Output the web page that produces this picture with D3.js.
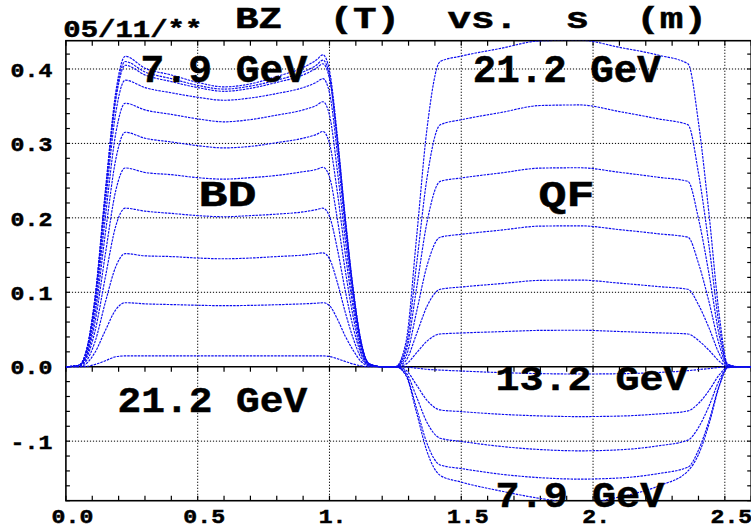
<!DOCTYPE html>
<html><head><meta charset="utf-8">
<script src="https://cdn.jsdelivr.net/npm/d3@7"></script>
<style>
html,body{margin:0;padding:0;background:#fff;overflow:hidden}
svg{display:block}
text{font-family:"Liberation Mono","Courier New",monospace;font-weight:bold;fill:#000;stroke:#000;stroke-width:0.5px}
</style></head><body>
<svg id="c" width="751" height="529"></svg>
<script>
const S = [0, 0.05, 0.08, 0.11, 0.15, 0.19, 0.225, 0.30, 0.40, 0.50, 0.60, 0.70, 0.80, 0.90, 0.95, 0.975,
  1.00, 1.03, 1.06, 1.09, 1.12, 1.15, 1.20,
  1.25, 1.29, 1.33, 1.37, 1.42, 1.50, 1.65, 1.80, 1.95, 2.10, 2.25, 2.36, 2.40, 2.44, 2.48, 2.51, 2.55, 2.60];

// Bz (T) for each beam energy, from 7.9 GeV (bzE1) to 21.2 GeV (bzE11)
const bzE1 = [0,0.002,0.025,0.092,0.238,0.371,0.417,0.401,0.392,0.382,0.376,0.380,0.390,0.402,0.412,0.419,0.398,0.310,0.201,0.105,0.034,0.004,0,
  0,-0.0117,-0.0613,-0.1139,-0.146,-0.155,-0.167,-0.177,-0.183,-0.175,-0.160,-0.140,-0.118,-0.077,-0.025,-0.0015,0,0];
const bzE2 = [0,0.002,0.025,0.090,0.234,0.365,0.410,0.396,0.387,0.378,0.373,0.377,0.385,0.396,0.405,0.412,0.391,0.305,0.198,0.103,0.033,0.004,0,
  0,-0.0106,-0.0554,-0.103,-0.132,-0.1368,-0.1444,-0.1491,-0.151,-0.1495,-0.1434,-0.1349,-0.112,-0.0726,-0.0238,-0.0013,0,0];
const bzE3 = [0,0.002,0.024,0.089,0.231,0.360,0.405,0.392,0.383,0.375,0.370,0.374,0.382,0.392,0.401,0.407,0.387,0.301,0.195,0.102,0.033,0.004,0,
  0,-0.0077,-0.0403,-0.0749,-0.096,-0.1003,-0.1071,-0.1113,-0.113,-0.1116,-0.1062,-0.0986,-0.0816,-0.0528,-0.0173,-0.001,0,0];
const bzE4 = [0,0.002,0.023,0.085,0.219,0.343,0.385,0.375,0.368,0.362,0.358,0.361,0.367,0.375,0.382,0.387,0.368,0.286,0.186,0.097,0.031,0.004,0,
  0,-0.0046,-0.0244,-0.0452,-0.058,-0.0603,-0.0639,-0.0661,-0.067,-0.0663,-0.0634,-0.0594,-0.0493,-0.0319,-0.0104,-0.0006,0,0];
const bzE5 = [0,0.002,0.021,0.078,0.202,0.315,0.354,0.345,0.339,0.333,0.329,0.332,0.338,0.345,0.351,0.356,0.338,0.263,0.171,0.089,0.028,0.004,0,
  0,-0.0004,-0.0019,-0.0035,-0.0045,-0.0058,-0.0079,-0.0093,-0.0098,-0.0094,-0.0077,-0.0053,-0.0038,-0.0025,-0.0008,0,0,0];
const bzE6 = [0,0.002,0.019,0.069,0.180,0.280,0.315,0.307,0.302,0.297,0.294,0.296,0.301,0.307,0.312,0.316,0.300,0.234,0.152,0.079,0.025,0.003,0,
  0,0.0035,0.0185,0.0343,0.044,0.0453,0.0471,0.0488,0.0490,0.0473,0.0455,0.044,0.0352,0.022,0.007,0.0004,0,0];
const bzE7 = [0,0.001,0.016,0.059,0.152,0.238,0.267,0.261,0.258,0.254,0.252,0.254,0.257,0.262,0.265,0.268,0.255,0.198,0.129,0.067,0.021,0.003,0,
  0,0.0083,0.0437,0.0811,0.104,0.1071,0.1116,0.1160,0.1164,0.1123,0.1076,0.104,0.0832,0.052,0.0166,0.001,0,0];
const bzE8 = [0,0.001,0.013,0.047,0.121,0.190,0.213,0.209,0.206,0.203,0.2015,0.203,0.205,0.208,0.211,0.213,0.202,0.158,0.102,0.053,0.017,0.002,0,
  0,0.0139,0.0731,0.1357,0.174,0.1779,0.1835,0.1889,0.1893,0.1842,0.1785,0.174,0.139,0.087,0.028,0.0017,0,0];
const bzE9 = [0,0.001,0.009,0.033,0.087,0.135,0.152,0.149,0.148,0.146,0.145,0.146,0.148,0.150,0.152,0.153,0.145,0.113,0.073,0.038,0.012,0.002,0,
  0,0.0199,0.1046,0.1942,0.249,0.2536,0.2603,0.2668,0.2673,0.2612,0.2544,0.249,0.199,0.1245,0.040,0.0025,0,0];
const bzE10 = [0,0,0.005,0.019,0.049,0.077,0.086,0.0845,0.0835,0.0826,0.082,0.0824,0.0833,0.0845,0.0853,0.086,0.082,0.064,0.041,0.022,0.007,0.001,0,
  0,0.026,0.1365,0.2535,0.325,0.3318,0.3415,0.3509,0.3517,0.3428,0.3328,0.325,0.26,0.1625,0.052,0.0033,0,0];
const bzE11 = [0,0,0.0005,0.003,0.008,0.0135,0.0145,0.0145,0.0145,0.0145,0.0145,0.0145,0.0145,0.0145,0.0145,0.0145,0.0138,0.0107,0.007,0.0036,0.0012,0,0,
  0,0.0328,0.1722,0.3198,0.41,0.4173,0.4277,0.4378,0.4387,0.4291,0.4184,0.407,0.328,0.205,0.066,0.004,0,0];
const series = [bzE1,bzE2,bzE3,bzE4,bzE5,bzE6,bzE7,bzE8,bzE9,bzE10,bzE11];

const xTicks = [0, 0.5, 1.0, 1.5, 2.0, 2.5];
const xTickLabels = ["0.0", "0.5", "1.", "1.5", "2.", "2.5"];
const yTicks = [-0.1, 0.0, 0.1, 0.2, 0.3, 0.4];
const yTickLabels = ["-.1", "0.0", "0.1", "0.2", "0.3", "0.4"];
const titleParts = [["BZ", 0], ["(T)", 4], ["vs.", 9], ["s", 14], ["(m)", 17]];
const dateLabel = "05/11/**";

const CAPR = 0.66;
const svg = d3.select("#c");
const x = d3.scaleLinear().domain([0, 2.6]).range([65.9, 751.2]);
const y = d3.scaleLinear().domain([-0.18, 0.438]).range([500.7, 40.7]);
const L = x(0), R = x(2.6), T = y(0.438), B = y(-0.18);

svg.append("defs").append("clipPath").attr("id","pc")
  .append("rect").attr("x",L).attr("y",T).attr("width",R-L).attr("height",B-T);

// grid
const g = svg.append("g");
g.selectAll(".gx").data(xTicks.filter(d=>d>0)).join("line")
  .attr("x1",d=>x(d)).attr("x2",d=>x(d)).attr("y1",T).attr("y2",B)
  .attr("stroke","#000").attr("stroke-width",1).attr("stroke-dasharray","1.2,1.8");
g.selectAll(".gy").data(yTicks.filter(d=>d!==0)).join("line")
  .attr("x1",L).attr("x2",R).attr("y1",d=>y(d)).attr("y2",d=>y(d))
  .attr("stroke","#000").attr("stroke-width",1).attr("stroke-dasharray","1.2,1.8");

// frame
svg.append("rect").attr("x",L).attr("y",T).attr("width",R-L).attr("height",B-T)
  .attr("fill","none").attr("stroke","#000").attr("stroke-width",1.6);
svg.append("line").attr("x1",L).attr("x2",R).attr("y1",y(0)).attr("y2",y(0))
  .attr("stroke","#000").attr("stroke-width",1.6);

// minor ticks
const xm = x.ticks(26), ym = y.ticks(30);
const tk = svg.append("g").attr("stroke","#000").attr("stroke-width",1.2);
xm.forEach(v=>{
  tk.append("line").attr("x1",x(v)).attr("x2",x(v)).attr("y1",T).attr("y2",T+5);
  tk.append("line").attr("x1",x(v)).attr("x2",x(v)).attr("y1",B).attr("y2",B-5);
  tk.append("line").attr("x1",x(v)).attr("x2",x(v)).attr("y1",y(0)).attr("y2",y(0)+5);
});
ym.forEach(v=>{
  tk.append("line").attr("x1",L).attr("x2",L+4).attr("y1",y(v)).attr("y2",y(v));
  tk.append("line").attr("x1",R).attr("x2",R-4).attr("y1",y(v)).attr("y2",y(v));
});

// curves
const line = d3.line().x((d,i)=>x(S[i])).y(d=>y(d)).curve(d3.curveMonotoneX);
svg.append("g").attr("clip-path","url(#pc)").selectAll("path").data(series).join("path")
  .attr("d",line).attr("fill","none").attr("stroke","#0c0cf0")
  .attr("stroke-width",1.15).attr("stroke-dasharray","2.5,1");

// text helper
function label(str, x0, base, cap, len){
  return svg.append("text").attr("x",x0).attr("y",base)
    .attr("font-size",(cap/CAPR).toFixed(2)).attr("textLength",len)
    .attr("lengthAdjust","spacingAndGlyphs").text(str);
}
// axis labels
yTicks.forEach((v,i)=>label(yTickLabels[i], 10.6, y(v)+7.7, 13.2, 41.7));
xTicks.forEach((v,i)=>{
  const s = xTickLabels[i];
  if (s.length===3) label(s, x(v)-14.3, 523.3, 13.2, 41.7);
  else label(s, x(v)-10.8, 523.3, 13.2, 27.8);
});
// title
titleParts.forEach(([t,c])=>label(t, 235+c*23.6, 28, 20, t.length*23.6));
label(dateLabel, 63.3, 37.3, 15.3, 139);
// annotations
label("7.9 GeV", 140.6, 82, 25, 166.6);
label("21.2 GeV", 472.7, 82, 25, 188);
label("BD", 198.5, 206, 24.5, 58);
label("QF", 538.5, 206, 24.5, 56);
label("21.2 GeV", 117.6, 412, 24, 189.6);
label("13.2 GeV", 495.6, 390, 23.5, 192);
label("7.9 GeV", 495.6, 506.5, 24, 168.7);
</script>
</body></html>
